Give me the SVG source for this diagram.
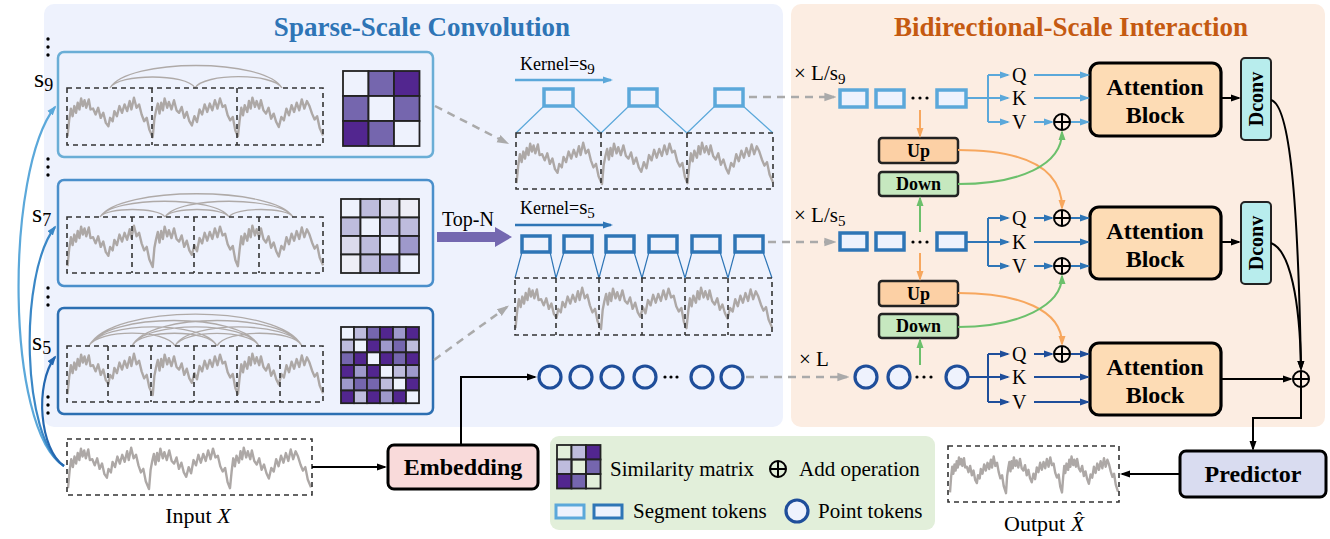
<svg xmlns="http://www.w3.org/2000/svg" xmlns:xlink="http://www.w3.org/1999/xlink" width="1330" height="539" viewBox="0 0 1330 539">
<style>
text{font-family:'Liberation Serif','Times New Roman',serif;fill:#000}
.b{font-weight:bold}
.dash{fill:none;stroke:#333;stroke-width:1.6;stroke-dasharray:5 4}
.arc{fill:none;stroke:#AFAAA8;stroke-width:1.3}
.cell{stroke:#222;stroke-width:1.8}
.segL{fill:#EEF2FD;stroke:#5BA8DA;stroke-width:3.5}
.segB{fill:#EEF2FD;stroke:#2E75B6;stroke-width:3.5}
.pt{fill:#EEF2FD;stroke:#1F4E9A;stroke-width:3.2}
.gd{fill:none;stroke:#AAAAAA;stroke-width:2.5;stroke-dasharray:8 6}
.lb{fill:none;stroke:#5BA8DA;stroke-width:2}
.bl{fill:none;stroke:#2E75B6;stroke-width:2}
.nv{fill:none;stroke:#1F4E9A;stroke-width:2}
.k{fill:none;stroke:#000;stroke-width:2}
.or{fill:none;stroke:#F7A75E;stroke-width:2}
.gr{fill:none;stroke:#6CC06C;stroke-width:2}
.tz{stroke:#5BA8DA;stroke-width:1.2}
.tzb{stroke:#2E75B6;stroke-width:1.2}
.blk{fill:#FDDCB5;stroke:#000;stroke-width:3.2}
.dc{fill:#B8EDED;stroke:#222;stroke-width:2}
.up{fill:#FCD0A5;stroke:#222;stroke-width:2.5}
.dn{fill:#C6E8BF;stroke:#222;stroke-width:2.5}
.plus circle{fill:none;stroke:#000;stroke-width:2}
.plus path{stroke:#000;stroke-width:2}
.W{fill:#EEF2FD}.D{fill:#52268F}.M{fill:#7566AE}.ML{fill:#9E99CB}.L{fill:#BEBCDD}.VL{fill:#DBDAEC}.VV{fill:#EEEEF6}.T{fill:none}
</style>
<defs>
<marker id="aK" viewBox="0 0 10 10" refX="8" refY="5" markerWidth="10" markerHeight="10" markerUnits="userSpaceOnUse" orient="auto"><path d="M0,1.5 L10,5 L0,8.5z" fill="#000"/></marker>
<marker id="aG" viewBox="0 0 10 10" refX="8" refY="5" markerWidth="12" markerHeight="12" markerUnits="userSpaceOnUse" orient="auto"><path d="M0,1.5 L10,5 L0,8.5z" fill="#AAAAAA"/></marker>
<marker id="aL" viewBox="0 0 10 10" refX="8" refY="5" markerWidth="10" markerHeight="10" markerUnits="userSpaceOnUse" orient="auto"><path d="M0,1.5 L10,5 L0,8.5z" fill="#5BA8DA"/></marker>
<marker id="aB" viewBox="0 0 10 10" refX="8" refY="5" markerWidth="10" markerHeight="10" markerUnits="userSpaceOnUse" orient="auto"><path d="M0,1.5 L10,5 L0,8.5z" fill="#2E75B6"/></marker>
<marker id="aS7" viewBox="0 0 10 10" refX="8" refY="5" markerWidth="10" markerHeight="10" markerUnits="userSpaceOnUse" orient="auto"><path d="M0,1.5 L10,5 L0,8.5z" fill="#3A87C6"/></marker>
<marker id="aS5" viewBox="0 0 10 10" refX="8" refY="5" markerWidth="10" markerHeight="10" markerUnits="userSpaceOnUse" orient="auto"><path d="M0,1.5 L10,5 L0,8.5z" fill="#2467B0"/></marker>
<marker id="aN" viewBox="0 0 10 10" refX="8" refY="5" markerWidth="10" markerHeight="10" markerUnits="userSpaceOnUse" orient="auto"><path d="M0,1.5 L10,5 L0,8.5z" fill="#1F4E9A"/></marker>
<marker id="aO" viewBox="0 0 10 10" refX="8" refY="5" markerWidth="10" markerHeight="10" markerUnits="userSpaceOnUse" orient="auto"><path d="M0,1.5 L10,5 L0,8.5z" fill="#F7A75E"/></marker>
<marker id="aGr" viewBox="0 0 10 10" refX="8" refY="5" markerWidth="10" markerHeight="10" markerUnits="userSpaceOnUse" orient="auto"><path d="M0,1.5 L10,5 L0,8.5z" fill="#6CC06C"/></marker>
<path id="wave" fill="none" stroke="#ADA8A6" stroke-width="2.4" stroke-linejoin="round" vector-effect="non-scaling-stroke" d="M0,48 L2,28 4,15 6,24 8,12 10,20 12,8 14,16 16,3 18,12 20,5 22,14 25,4 27,16 30,15 33,22 36,14 39,26 42,20 45,32 48,36 50,26 53,30 55,18 58,24 61,12 64,20 67,10 70,18 73,6 75,16 78,2 81,14 84,10 87,22 90,30 93,26 96,40 100,49 102,27 104,17 106,9 108,21 110,8 112,17 114,3 117,14 119,7 122,16 125,5 128,17 131,20 134,13 137,26 140,19 143,30 146,35 149,24 152,31 155,16 158,22 161,10 164,19 167,9 170,17 173,5 176,15 179,3 182,13 185,11 188,23 191,29 194,25 197,41 200,48 202,29 204,14 206,23 208,11 211,19 213,6 215,15 217,2 220,13 222,6 225,15 227,5 230,17 233,21 236,14 239,27 242,21 245,31 248,37 251,25 254,29 257,15 260,23 263,11 266,19 269,8 272,17 275,4 278,15 281,6 284,12 287,21 290,28 293,24 296,38 300,47"/>
<g id="plus" class="plus"><circle cx="0" cy="0" r="8"/><path d="M-8,0 H8 M0,-8 V8"/></g>
</defs>

<!-- panels -->
<g id="panel-sparse">
<rect x="44" y="4" width="739" height="423" rx="10" fill="#EEF2FD"/>
<text x="422" y="36" class="b" font-size="27" text-anchor="middle" style="fill:#2E75B6">Sparse-Scale Convolution</text>
</g>
<g id="panel-bidir">
<rect x="791" y="4" width="534" height="423" rx="10" fill="#FCEDE2"/>
<text x="1071" y="36" class="b" font-size="27" text-anchor="middle" style="fill:#C55A11">Bidirectional-Scale Interaction</text>
</g>

<!-- scale labels and dots -->
<g id="scale-labels">
<text x="34" y="87" font-size="26">s<tspan font-size="18" dy="4">9</tspan></text>
<text x="32" y="222" font-size="26">s<tspan font-size="18" dy="4">7</tspan></text>
<text x="32" y="350" font-size="26">s<tspan font-size="18" dy="4">5</tspan></text>
<g fill="#000">
<circle cx="48" cy="39" r="1.7"/><circle cx="48" cy="47" r="1.7"/><circle cx="48" cy="55" r="1.7"/>
<circle cx="48" cy="159" r="1.7"/><circle cx="48" cy="167" r="1.7"/><circle cx="48" cy="175" r="1.7"/>
<circle cx="48" cy="288" r="1.7"/><circle cx="48" cy="297" r="1.7"/><circle cx="48" cy="305" r="1.7"/>
<circle cx="48" cy="397" r="1.7"/><circle cx="48" cy="405" r="1.7"/><circle cx="48" cy="413" r="1.7"/>
</g>
</g>

<!-- scale s9 -->
<g id="scale-s9">
<rect x="58" y="52" width="375" height="105" rx="6" fill="none" stroke="#6AAED6" stroke-width="2.5"/>
<path class="arc" d="M110,88 C118.5,73.3 186.5,73.3 195,88 M195,88 C203.7,72.9 273.3,72.9 282,88 M110,88 C127,58 265,58 282,88"/>
<use xlink:href="#wave" href="#wave" transform="translate(67.5,96) scale(0.852,0.84)"/>
<rect class="dash" x="67" y="88" width="256" height="57"/>
<path class="dash" d="M152,88 V145 M237,88 V145"/>
<g class="cell">
<rect class="W" x="343" y="71" width="25.5" height="25"/><rect class="M" x="368.5" y="71" width="25.5" height="25"/><rect class="D" x="394" y="71" width="25.5" height="25"/>
<rect class="M" x="343" y="96" width="25.5" height="25"/><rect class="W" x="368.5" y="96" width="25.5" height="25"/><rect class="M" x="394" y="96" width="25.5" height="25"/>
<rect class="D" x="343" y="121" width="25.5" height="25"/><rect class="M" x="368.5" y="121" width="25.5" height="25"/><rect class="W" x="394" y="121" width="25.5" height="25"/>
</g>
</g>

<!-- scale s7 -->
<g id="scale-s7">
<rect x="58" y="180" width="375" height="106" rx="6" fill="none" stroke="#4A8FCB" stroke-width="2.5"/>
<path class="arc" d="M100,217 C113,196 216,196 229,217 M165,217 C178,196 280,196 293,217 M100,217 C119,186 274,186 293,217 M165,217 C171,207 223,207 229,217 M100,217 C106.5,207 158.5,207 165,217 M229,217 C235,207 287,207 293,217"/>
<use xlink:href="#wave" href="#wave" transform="translate(67.5,224) scale(0.852,0.88)"/>
<rect class="dash" x="67" y="217" width="256" height="56"/>
<path class="dash" d="M132,217 V273 M194,217 V273 M259,217 V273"/>
<g class="cell">
<rect class="W" x="341" y="199" width="19.5" height="18.5"/><rect class="L" x="360.5" y="199" width="19.5" height="18.5"/><rect class="VL" x="380" y="199" width="19.5" height="18.5"/><rect class="VV" x="399.5" y="199" width="19.5" height="18.5"/>
<rect class="L" x="341" y="217.5" width="19.5" height="18.5"/><rect class="W" x="360.5" y="217.5" width="19.5" height="18.5"/><rect class="L" x="380" y="217.5" width="19.5" height="18.5"/><rect class="L" x="399.5" y="217.5" width="19.5" height="18.5"/>
<rect class="VL" x="341" y="236" width="19.5" height="18.5"/><rect class="L" x="360.5" y="236" width="19.5" height="18.5"/><rect class="W" x="380" y="236" width="19.5" height="18.5"/><rect class="ML" x="399.5" y="236" width="19.5" height="18.5"/>
<rect class="VV" x="341" y="254.5" width="19.5" height="18.5"/><rect class="L" x="360.5" y="254.5" width="19.5" height="18.5"/><rect class="ML" x="380" y="254.5" width="19.5" height="18.5"/><rect class="W" x="399.5" y="254.5" width="19.5" height="18.5"/>
</g>
</g>

<!-- scale s5 -->
<g id="scale-s5">
<rect x="58" y="308" width="375" height="106" rx="6" fill="none" stroke="#2C6FB2" stroke-width="2.5"/>
<path class="arc" d="M89,346 C97.6,328.8 166.4,328.8 175,346 M89,346 C101.8,320.4 204.2,320.4 217,346 M89,346 C106,312 242,312 259,346 M89,346 C110.3,303.4 280.7,303.4 302,346 M132,346 C140.5,329 208.5,329 217,346 M132,346 C144.7,320.6 246.3,320.6 259,346 M132,346 C149,312 285,312 302,346 M175,346 C183.4,329.2 250.6,329.2 259,346 M175,346 C187.7,320.6 289.3,320.6 302,346 M217,346 C225.5,329 293.5,329 302,346"/>
<use xlink:href="#wave" href="#wave" transform="translate(67.5,352) scale(0.852,0.88)"/>
<rect class="dash" x="67" y="346" width="256" height="56"/>
<path class="dash" d="M108,346 V402 M151,346 V402 M194,346 V402 M237,346 V402 M280,346 V402"/>
<g class="cell">
<rect class="W" x="341" y="327" width="13" height="12.7"/><rect class="L" x="354" y="327" width="13" height="12.7"/><rect class="M" x="367" y="327" width="13" height="12.7"/><rect class="D" x="380" y="327" width="13" height="12.7"/><rect class="ML" x="393" y="327" width="13" height="12.7"/><rect class="D" x="406" y="327" width="13" height="12.7"/>
<rect class="L" x="341" y="339.7" width="13" height="12.7"/><rect class="W" x="354" y="339.7" width="13" height="12.7"/><rect class="D" x="367" y="339.7" width="13" height="12.7"/><rect class="ML" x="380" y="339.7" width="13" height="12.7"/><rect class="M" x="393" y="339.7" width="13" height="12.7"/><rect class="L" x="406" y="339.7" width="13" height="12.7"/>
<rect class="M" x="341" y="352.4" width="13" height="12.7"/><rect class="D" x="354" y="352.4" width="13" height="12.7"/><rect class="W" x="367" y="352.4" width="13" height="12.7"/><rect class="D" x="380" y="352.4" width="13" height="12.7"/><rect class="M" x="393" y="352.4" width="13" height="12.7"/><rect class="D" x="406" y="352.4" width="13" height="12.7"/>
<rect class="D" x="341" y="365.1" width="13" height="12.7"/><rect class="ML" x="354" y="365.1" width="13" height="12.7"/><rect class="D" x="367" y="365.1" width="13" height="12.7"/><rect class="W" x="380" y="365.1" width="13" height="12.7"/><rect class="L" x="393" y="365.1" width="13" height="12.7"/><rect class="ML" x="406" y="365.1" width="13" height="12.7"/>
<rect class="ML" x="341" y="377.8" width="13" height="12.7"/><rect class="M" x="354" y="377.8" width="13" height="12.7"/><rect class="M" x="367" y="377.8" width="13" height="12.7"/><rect class="L" x="380" y="377.8" width="13" height="12.7"/><rect class="W" x="393" y="377.8" width="13" height="12.7"/><rect class="D" x="406" y="377.8" width="13" height="12.7"/>
<rect class="D" x="341" y="390.5" width="13" height="12.7"/><rect class="L" x="354" y="390.5" width="13" height="12.7"/><rect class="D" x="367" y="390.5" width="13" height="12.7"/><rect class="ML" x="380" y="390.5" width="13" height="12.7"/><rect class="D" x="393" y="390.5" width="13" height="12.7"/><rect class="W" x="406" y="390.5" width="13" height="12.7"/>
</g>
</g>

<!-- kernel s9 conv -->
<g id="conv-s9">
<text x="520" y="70" font-size="18">Kernel=<tspan font-size="21">s</tspan><tspan font-size="15" dy="4">9</tspan></text>
<path d="M515,80 H611" fill="none" stroke="#5BA8DA" stroke-width="2.5" marker-end="url(#aL)"/>
<path class="tz" d="M544,106 L516,133 M573,106 L601,133 M629,106 L601,133 M657,106 L687,133 M715,106 L687,133 M743,106 L773,133"/>
<rect class="segL" x="544" y="89" width="29" height="17"/>
<rect class="segL" x="629" y="89" width="28" height="17"/>
<rect class="segL" x="715" y="89" width="28" height="17"/>
<use xlink:href="#wave" href="#wave" transform="translate(516.5,141) scale(0.855,0.88)"/>
<rect class="dash" x="516" y="133" width="257" height="56"/>
<path class="dash" d="M601,133 V189 M687,133 V189"/>
</g>

<!-- Top-N and kernel s5 conv -->
<g id="conv-s5">
<text x="442" y="226" font-size="20">Top-N</text>
<polygon points="437,232 495,232 495,227 512,237 495,247 495,242 437,242" fill="#7468B0"/>
<text x="520" y="214" font-size="18">Kernel=<tspan font-size="21">s</tspan><tspan font-size="15" dy="4">5</tspan></text>
<path d="M515,225 H611" fill="none" stroke="#2E75B6" stroke-width="2.5" marker-end="url(#aB)"/>
<path class="tzb" d="M522,252 L515,278 M550,252 L556,278 M564,252 L556,278 M592,252 L599,278 M606,252 L599,278 M634,252 L642,278 M649,252 L642,278 M677,252 L685,278 M692,252 L685,278 M720,252 L728,278 M735,252 L728,278 M763,252 L772,278"/>
<rect class="segB" x="522" y="236" width="28" height="16"/>
<rect class="segB" x="564" y="236" width="28" height="16"/>
<rect class="segB" x="606" y="236" width="28" height="16"/>
<rect class="segB" x="649" y="236" width="28" height="16"/>
<rect class="segB" x="692" y="236" width="28" height="16"/>
<rect class="segB" x="735" y="236" width="28" height="16"/>
<use xlink:href="#wave" href="#wave" transform="translate(515.5,286) scale(0.855,0.88)"/>
<rect class="dash" x="515" y="278" width="257" height="57"/>
<path class="dash" d="M556,278 V335 M599,278 V335 M642,278 V335 M685,278 V335 M728,278 V335"/>
</g>

<!-- point tokens (middle) -->
<g id="points-mid">
<circle class="pt" cx="550" cy="377" r="11"/>
<circle class="pt" cx="581" cy="377" r="11"/>
<circle class="pt" cx="612" cy="377" r="11"/>
<circle class="pt" cx="645" cy="377" r="11"/>
<g fill="#000"><circle cx="665" cy="377" r="1.6"/><circle cx="671" cy="377" r="1.6"/><circle cx="677" cy="377" r="1.6"/></g>
<circle class="pt" cx="702" cy="377" r="11"/>
<circle class="pt" cx="732" cy="377" r="11"/>
</g>

<!-- input / embedding -->
<g id="input">
<use xlink:href="#wave" href="#wave" transform="translate(68,446) scale(0.81,0.88)"/>
<rect class="dash" x="67" y="439" width="245" height="56"/>
<text x="198" y="523" font-size="22" text-anchor="middle">Input <tspan font-style="italic">X</tspan></text>
</g>
<g id="embedding">
<rect x="388" y="445" width="150" height="44" rx="6" fill="#F9DADA" stroke="#000" stroke-width="3"/>
<text x="463" y="475" class="b" font-size="24" text-anchor="middle">Embedding</text>
</g>

<!-- right panel rows -->
<g id="row-s9">
<text x="794" y="80" font-size="21">× L/s<tspan font-size="15" dy="4">9</tspan></text>
<rect class="segL" x="840" y="90" width="27" height="17"/>
<rect class="segL" x="876" y="90" width="28" height="17"/>
<g fill="#000"><circle cx="913" cy="98" r="1.6"/><circle cx="920" cy="98" r="1.6"/><circle cx="927" cy="98" r="1.6"/></g>
<rect class="segL" x="937" y="90" width="29" height="17"/>
<text x="1012" y="82" font-size="20">Q</text>
<text x="1012" y="105" font-size="20">K</text>
<text x="1012" y="129" font-size="20">V</text>
</g>
<g id="attn1">
<rect class="blk" x="1090" y="63" width="131" height="73" rx="9"/>
<text x="1155" y="95" class="b" font-size="24" text-anchor="middle">Attention</text>
<text x="1155" y="123" class="b" font-size="24" text-anchor="middle">Block</text>
</g>
<g id="dconv1">
<rect class="dc" x="1241" y="58" width="30" height="82" rx="4"/>
<text transform="translate(1263,99) rotate(-90)" class="b" font-size="20" text-anchor="middle">Dconv</text>
</g>
<g id="up1"><rect class="up" x="879" y="138" width="79" height="25" rx="3"/><text x="918.5" y="157" class="b" font-size="18" text-anchor="middle">Up</text></g>
<g id="down1"><rect class="dn" x="879" y="172" width="79" height="24" rx="3"/><text x="918.5" y="190" class="b" font-size="18" text-anchor="middle">Down</text></g>

<g id="row-s5">
<text x="794" y="222" font-size="21">× L/s<tspan font-size="15" dy="4">5</tspan></text>
<rect class="segB" x="840" y="233" width="27" height="17"/>
<rect class="segB" x="876" y="233" width="28" height="17"/>
<g fill="#000"><circle cx="913" cy="242" r="1.6"/><circle cx="920" cy="242" r="1.6"/><circle cx="927" cy="242" r="1.6"/></g>
<rect class="segB" x="937" y="233" width="29" height="17"/>
<text x="1012" y="225" font-size="20">Q</text>
<text x="1012" y="249" font-size="20">K</text>
<text x="1012" y="273" font-size="20">V</text>
</g>
<g id="attn2">
<rect class="blk" x="1090" y="207" width="131" height="72" rx="9"/>
<text x="1155" y="239" class="b" font-size="24" text-anchor="middle">Attention</text>
<text x="1155" y="267" class="b" font-size="24" text-anchor="middle">Block</text>
</g>
<g id="dconv2">
<rect class="dc" x="1241" y="202" width="30" height="82" rx="4"/>
<text transform="translate(1263,243) rotate(-90)" class="b" font-size="20" text-anchor="middle">Dconv</text>
</g>
<g id="up2"><rect class="up" x="879" y="281" width="79" height="25" rx="3"/><text x="918.5" y="300" class="b" font-size="18" text-anchor="middle">Up</text></g>
<g id="down2"><rect class="dn" x="879" y="314" width="79" height="24" rx="3"/><text x="918.5" y="332" class="b" font-size="18" text-anchor="middle">Down</text></g>

<g id="row-points">
<text x="799" y="366" font-size="21">× L</text>
<circle class="pt" cx="866" cy="377" r="11"/>
<circle class="pt" cx="899" cy="377" r="11"/>
<g fill="#000"><circle cx="917" cy="377" r="1.6"/><circle cx="924" cy="377" r="1.6"/><circle cx="931" cy="377" r="1.6"/></g>
<circle class="pt" cx="957" cy="377" r="11"/>
<text x="1012" y="361" font-size="20">Q</text>
<text x="1012" y="384" font-size="20">K</text>
<text x="1012" y="409" font-size="20">V</text>
</g>
<g id="attn3">
<rect class="blk" x="1090" y="343" width="131" height="72" rx="9"/>
<text x="1155" y="375" class="b" font-size="24" text-anchor="middle">Attention</text>
<text x="1155" y="403" class="b" font-size="24" text-anchor="middle">Block</text>
</g>

<!-- add operations -->
<g id="adds">
<use xlink:href="#plus" href="#plus" x="1062" y="122"/>
<use xlink:href="#plus" href="#plus" x="1062" y="218"/>
<use xlink:href="#plus" href="#plus" x="1062" y="266"/>
<use xlink:href="#plus" href="#plus" x="1062" y="354"/>
<use xlink:href="#plus" href="#plus" x="1301" y="379"/>
</g>

<!-- predictor / output -->
<g id="predictor">
<rect x="1180" y="451" width="146" height="46" rx="6" fill="#D9DCF0" stroke="#000" stroke-width="3"/>
<text x="1253" y="482" class="b" font-size="24" text-anchor="middle">Predictor</text>
</g>
<g id="output">
<use xlink:href="#wave" href="#wave" transform="translate(950,455) scale(0.56,0.78)"/>
<rect class="dash" x="948" y="446" width="171" height="56"/>
<text x="1004" y="531" font-size="22">Output <tspan font-style="italic">X&#x302;</tspan></text>
</g>

<!-- legend -->
<g id="legend">
<rect x="550" y="436" width="385" height="94" rx="9" fill="#E2EFDA"/>
<g class="cell">
<rect class="T" x="557" y="445" width="14.5" height="14.5"/><rect class="L" x="571.5" y="445" width="14.5" height="14.5"/><rect class="D" x="586" y="445" width="14.5" height="14.5"/>
<rect class="L" x="557" y="459.5" width="14.5" height="14.5"/><rect class="T" x="571.5" y="459.5" width="14.5" height="14.5"/><rect class="M" x="586" y="459.5" width="14.5" height="14.5"/>
<rect class="D" x="557" y="474" width="14.5" height="14.5"/><rect class="M" x="571.5" y="474" width="14.5" height="14.5"/><rect class="T" x="586" y="474" width="14.5" height="14.5"/>
</g>
<text x="610" y="476" font-size="21">Similarity matrix</text>
<use xlink:href="#plus" href="#plus" x="778" y="469"/>
<text x="799" y="476" font-size="21">Add operation</text>
<rect x="556" y="505" width="28" height="13" fill="#EEF2FD" stroke="#5BA8DA" stroke-width="3"/>
<rect x="594" y="505" width="28" height="13" fill="#EEF2FD" stroke="#2E75B6" stroke-width="3"/>
<text x="633" y="518" font-size="21">Segment tokens</text>
<circle class="pt" cx="797" cy="511" r="11"/>
<text x="818" y="518" font-size="21">Point tokens</text>
</g>

<!-- connectors -->
<g id="connectors">
<path d="M64,466 C5,430 5,170 55,107" fill="none" stroke="#5BA8DA" stroke-width="2.2" marker-end="url(#aL)"/>
<path d="M64,466 C22,440 18,275 55,227" fill="none" stroke="#3A87C6" stroke-width="2.2" marker-end="url(#aS7)"/>
<path d="M64,466 C40,450 34,385 55,357" fill="none" stroke="#2467B0" stroke-width="2.2" marker-end="url(#aS5)"/>
<path class="gd" d="M435,106 L507,143" marker-end="url(#aG)"/>
<path class="gd" d="M434,360 L507,307" marker-end="url(#aG)"/>
<path class="gd" d="M749,97 L834,97" marker-end="url(#aG)"/>
<path class="gd" d="M768,242 L834,242" marker-end="url(#aG)"/>
<path class="gd" d="M746,377 L847,377" marker-end="url(#aG)"/>
<path class="k" d="M312,467 H385" marker-end="url(#aK)"/>
<path class="k" d="M461,445 V377 H535" marker-end="url(#aK)"/>
<!-- row s9 -->
<path class="lb" d="M966,98 H988 M988,75 V122"/>
<path class="lb" d="M988,75 H1008" marker-end="url(#aL)"/>
<path class="lb" d="M988,98 H1008" marker-end="url(#aL)"/>
<path class="lb" d="M988,122 H1008" marker-end="url(#aL)"/>
<path class="lb" d="M1034,75 H1088" marker-end="url(#aL)"/>
<path class="lb" d="M1034,98 H1088" marker-end="url(#aL)"/>
<path class="lb" d="M1034,122 H1052" marker-end="url(#aL)"/>
<path class="lb" d="M1071,122 H1088" marker-end="url(#aL)"/>
<!-- row s5 -->
<path class="bl" d="M966,242 H988 M988,218 V266"/>
<path class="bl" d="M988,218 H1008" marker-end="url(#aB)"/>
<path class="bl" d="M988,242 H1008" marker-end="url(#aB)"/>
<path class="bl" d="M988,266 H1008" marker-end="url(#aB)"/>
<path class="bl" d="M1034,218 H1052" marker-end="url(#aB)"/>
<path class="bl" d="M1071,218 H1088" marker-end="url(#aB)"/>
<path class="bl" d="M1034,242 H1088" marker-end="url(#aB)"/>
<path class="bl" d="M1034,266 H1052" marker-end="url(#aB)"/>
<path class="bl" d="M1071,266 H1088" marker-end="url(#aB)"/>
<!-- row points -->
<path class="nv" d="M968,377 H988 M988,354 V402"/>
<path class="nv" d="M988,354 H1008" marker-end="url(#aN)"/>
<path class="nv" d="M988,377 H1008" marker-end="url(#aN)"/>
<path class="nv" d="M988,402 H1008" marker-end="url(#aN)"/>
<path class="nv" d="M1034,354 H1052" marker-end="url(#aN)"/>
<path class="nv" d="M1071,354 H1088" marker-end="url(#aN)"/>
<path class="nv" d="M1034,377 H1088" marker-end="url(#aN)"/>
<path class="nv" d="M1034,402 H1088" marker-end="url(#aN)"/>
<!-- up/down -->
<path class="or" d="M920,110 V136" marker-end="url(#aO)"/>
<path class="gr" d="M920,232 V198" marker-end="url(#aGr)"/>
<path class="or" d="M920,253 V279" marker-end="url(#aO)"/>
<path class="gr" d="M920,365 V340" marker-end="url(#aGr)"/>
<path class="or" d="M958,150 C1020,150 1062,165 1062,208" marker-end="url(#aO)"/>
<path class="gr" d="M958,184 C1020,184 1062,165 1062,132" marker-end="url(#aGr)"/>
<path class="or" d="M958,293 C1020,293 1062,310 1062,344" marker-end="url(#aO)"/>
<path class="gr" d="M958,327 C1020,327 1062,305 1062,276" marker-end="url(#aGr)"/>
<!-- outputs -->
<path class="k" d="M1221,98 H1239" marker-end="url(#aK)"/>
<path class="k" d="M1221,242 H1239" marker-end="url(#aK)"/>
<path class="k" d="M1221,379 H1291" marker-end="url(#aK)"/>
<path class="k" d="M1271,100 C1290,105 1298,200 1301,369" marker-end="url(#aK)"/>
<path class="k" d="M1271,243 C1290,250 1300,300 1301,369" marker-end="url(#aK)"/>
<path class="k" d="M1301,387 V418 H1253 V449" marker-end="url(#aK)"/>
<path class="k" d="M1180,474 H1122" marker-end="url(#aK)"/>
</g>
</svg>
